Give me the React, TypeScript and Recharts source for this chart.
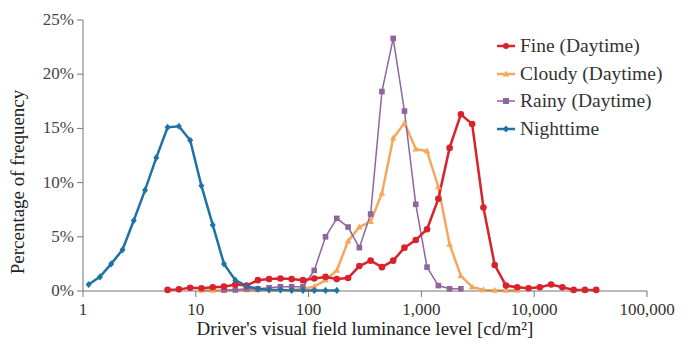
import React from 'react';
import { LineChart, Line, XAxis, YAxis } from 'recharts';

// bin centres on the log axis [cd/m2]
const luminance = [
  1.122, 1.413, 1.778, 2.239, 2.818, 3.548, 4.467, 5.623, 7.079, 8.913,
  11.22, 14.13, 17.78, 22.39, 28.18, 35.48, 44.67, 56.23, 70.79, 89.13,
  112.2, 141.3, 177.8, 223.9, 281.8, 354.8, 446.7, 562.3, 707.9, 891.3,
  1122, 1413, 1778, 2239, 2818, 3548, 4467, 5623, 7079, 8913,
  11220, 14130, 17780, 22390, 28180, 35480,
];

const nightStart = 0;
const nighttime = [
  0.6, 1.3, 2.5, 3.8, 6.5, 9.3, 12.3, 15.1, 15.2, 13.9,
  9.7, 6.1, 2.5, 1.0, 0.45, 0.2, 0.1, 0.1, 0.05, 0.05,
  0.05, 0.05, 0.05,
];

const fineStart = 7;
const fine = [
  0.1, 0.15, 0.3,
  0.25, 0.35, 0.4, 0.6, 0.5, 1.0, 1.1, 1.15, 1.1, 1.0,
  1.15, 1.3, 1.1, 1.2, 2.3, 2.8, 2.2, 2.8, 4.0, 4.7,
  5.7, 8.5, 13.2, 16.3, 15.4, 7.7, 2.4, 0.5, 0.35, 0.25,
  0.35, 0.6, 0.35, 0.1, 0.1, 0.1,
];

const cloudyStart = 10;
const cloudy = [
  0.05, 0.05, 0.05, 0.1, 0.1, 0.1, 0.1, 0.1, 0.1, 0.2,
  0.4, 1.0, 1.9, 4.6, 5.9, 6.4, 9.0, 14.1, 15.5, 13.1,
  12.9, 9.6, 4.3, 1.4, 0.37, 0.1, 0.05, 0.05, 0.05,
];

const rainyStart = 12;
const rainy = [
  0.1, 0.1, 0.2, 0.2, 0.3, 0.4, 0.4, 0.4,
  1.9, 5.0, 6.7, 5.9, 4.0, 7.1, 18.4, 23.3, 16.6, 8.0,
  2.2, 0.5, 0.2, 0.2,
];

const xTicks = [1, 10, 100, 1000, 10000, 100000];
const yTicks = [0, 5, 10, 15, 20, 25];

const pick = (arr: number[], start: number, i: number) =>
  i >= start && i - start < arr.length ? arr[i - start] : null;

const data = luminance.map((lum, i) => ({
  lum,
  fine: pick(fine, fineStart, i),
  cloudy: pick(cloudy, cloudyStart, i),
  rainy: pick(rainy, rainyStart, i),
  night: pick(nighttime, nightStart, i),
}));

const FONT = "'Liberation Serif', serif";

const COLORS = {
  fine: '#d8222c',
  cloudy: '#f5a75e',
  rainy: '#8f659e',
  night: '#1f72a4',
};

type Shape = 'circle' | 'triangle' | 'square' | 'diamond';

const Marker = ({ cx, cy, shape, color, size }: { cx: number; cy: number; shape: Shape; color: string; size: number }) => {
  if (cx == null || cy == null || isNaN(cx) || isNaN(cy)) return null;
  if (shape === 'circle') return <circle cx={cx} cy={cy} r={size} fill={color} />;
  if (shape === 'square')
    return <rect x={cx - size} y={cy - size} width={size * 2} height={size * 2} fill={color} />;
  if (shape === 'triangle')
    return (
      <polygon
        points={`${cx},${cy - size * 1.2} ${cx - size * 1.1},${cy + size * 0.8} ${cx + size * 1.1},${cy + size * 0.8}`}
        fill={color}
      />
    );
  return (
    <polygon
      points={`${cx},${cy - size * 1.2} ${cx + size},${cy} ${cx},${cy + size * 1.2} ${cx - size},${cy}`}
      fill={color}
    />
  );
};

const makeDot = (shape: Shape, color: string, size: number) => (props: any) => (
  <Marker key={props.index} cx={props.cx} cy={props.cy} shape={shape} color={color} size={size} />
);

const legendItems: { label: string; color: string; shape: Shape; width: number }[] = [
  { label: 'Fine (Daytime)', color: COLORS.fine, shape: 'circle', width: 2.5 },
  { label: 'Cloudy (Daytime)', color: COLORS.cloudy, shape: 'triangle', width: 2.5 },
  { label: 'Rainy (Daytime)', color: COLORS.rainy, shape: 'square', width: 1.5 },
  { label: 'Nighttime', color: COLORS.night, shape: 'diamond', width: 2.5 },
];

const LegendBox = () => (
  <div style={{ position: 'absolute', left: 497, top: 32, fontFamily: FONT, fontSize: 19.5, color: '#333', lineHeight: 1 }}>
    {legendItems.map((it) => (
      <div key={it.label} style={{ display: 'flex', alignItems: 'center', height: 27.7 }}>
        <svg width={18} height={12} style={{ marginRight: 5 }}>
          <line x1={0} y1={6} x2={18} y2={6} stroke={it.color} strokeWidth={it.width} />
          <Marker cx={9} cy={6} shape={it.shape} color={it.color} size={3} />
        </svg>
        <span>{it.label}</span>
      </div>
    ))}
  </div>
);

const fmtX = (v: number) => v.toLocaleString('en-US');

const XTick = (props: any) => (
  <text x={props.x} y={props.y + 16} textAnchor="middle" fill="#333" fontSize={17} fontFamily={FONT}>
    {fmtX(props.payload.value)}
  </text>
);

const YTick = (props: any) => (
  <text x={props.x - 1} y={props.y + 5} textAnchor="end" fill="#444" fontSize={17} fontFamily={FONT}>
    {`${props.payload.value}%`}
  </text>
);

const YTitle = () => (
  <text transform="translate(24,182) rotate(-90)" textAnchor="middle" fill="#222" fontSize={19} fontFamily={FONT}>
    Percentage of frequency
  </text>
);

export default function App() {
  return (
    <div style={{ position: 'absolute', left: 0, top: 0, width: 693, height: 344, background: '#fff', fontFamily: FONT }}>
      <LineChart width={693} height={344} data={data} margin={{ top: 20, right: 46, bottom: 0, left: 0 }}>
        <XAxis
          dataKey="lum"
          type="number"
          scale="log"
          domain={[1, 100000]}
          ticks={xTicks}
          allowDataOverflow
          height={53}
          stroke="#777"
          tick={XTick}
          label={{ value: "Driver's visual field luminance level [cd/m\u00b2]", position: 'insideBottom', offset: 9, fill: '#222', fontSize: 19, fontFamily: FONT }}
        />
        <YAxis
          domain={[0, 25]}
          ticks={yTicks}
          width={83}
          stroke="#777"
          tick={YTick}
          label={<YTitle />}
        />
        <Line dataKey="cloudy" stroke={COLORS.cloudy} strokeWidth={2.5} dot={makeDot('triangle', COLORS.cloudy, 3)} isAnimationActive={false} />
        <Line dataKey="rainy" stroke={COLORS.rainy} strokeWidth={1.5} dot={makeDot('square', COLORS.rainy, 2.8)} isAnimationActive={false} />
        <Line dataKey="fine" stroke={COLORS.fine} strokeWidth={2.5} dot={makeDot('circle', COLORS.fine, 3.3)} isAnimationActive={false} />
        <Line dataKey="night" stroke={COLORS.night} strokeWidth={2.5} dot={makeDot('diamond', COLORS.night, 3)} isAnimationActive={false} />
      </LineChart>
      <LegendBox />
    </div>
  );
}
